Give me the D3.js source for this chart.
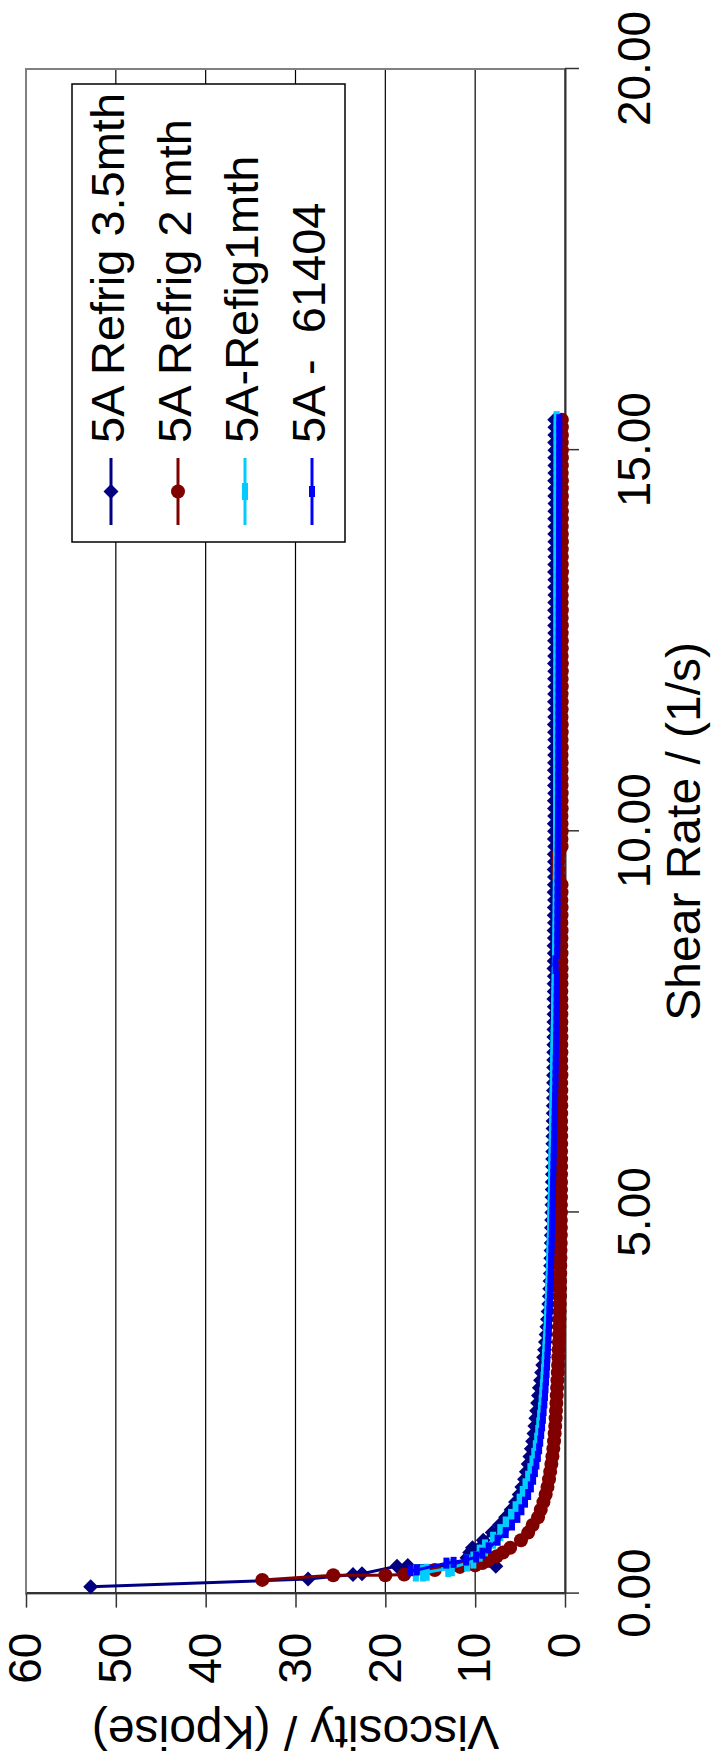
<!DOCTYPE html>
<html>
<head>
<meta charset="utf-8">
<script src="https://cdn.jsdelivr.net/npm/d3@7"></script>
<style>
  body { margin: 0; background: #fff; }
  text { font-family: "Liberation Sans", Arial, sans-serif; fill: #000; }
</style>
</head>
<body>
<svg id="chart" width="711" height="1763"></svg>
<script>
// series names, as in the legend
const seriesNames = ["5A Refrig 3.5mth", "5A Refrig 2 mth", "5A-Refig1mth", "5A -  61404"];

// axis ticks
const shearTicks = [0, 5, 10, 15, 20];
const viscTicks = [0, 10, 20, 30, 40, 50, 60];

// first few readings of each run (shear rate, viscosity) before the ramp settles
const start35 = [[0.09, 52.8], [0.19, 28.6], [0.25, 23.6], [0.26, 22.6], [0.36, 18.7], [0.37, 17.5], [0.36, 7.7], [0.47, 10.9], [0.54, 10.6]];
const start2 = [[0.18, 33.7], [0.24, 25.8], [0.24, 20.0], [0.25, 17.9], [0.31, 14.5], [0.35, 11.7], [0.37, 10.0], [0.40, 9.2], [0.44, 8.5], [0.49, 7.6], [0.54, 6.9]];
const start1 = [[0.27, 16.6], [0.27, 15.8], [0.28, 15.4], [0.33, 13.0], [0.34, 12.6], [0.40, 10.9], [0.44, 10.2], [0.53, 9.5]];
const start614 = [[0.30, 17.2], [0.31, 16.5], [0.40, 13.2], [0.41, 12.4], [0.44, 11.0], [0.48, 9.9], [0.53, 9.2]];

// shear rate ramp shared by the runs (1/s)
const shearRamp = [
  0.6, 0.7, 0.8, 0.9, 1.0, 1.1, 1.2, 1.3, 1.4, 1.5,
  1.6, 1.7, 1.8, 1.9, 2.0, 2.1, 2.2, 2.3, 2.4, 2.5,
  2.6, 2.7, 2.8, 2.9, 3.0, 3.1, 3.2, 3.3, 3.4, 3.5,
  3.6, 3.7, 3.8, 3.9, 4.0, 4.1, 4.2, 4.3, 4.4, 4.5,
  4.6, 4.7, 4.8, 4.9, 5.0, 5.1, 5.2, 5.3, 5.4, 5.5,
  5.6, 5.7, 5.8, 5.9, 6.0, 6.1, 6.2, 6.3, 6.4, 6.5,
  6.6, 6.7, 6.8, 6.9, 7.0, 7.1, 7.2, 7.3, 7.4, 7.5,
  7.6, 7.7, 7.8, 7.9, 8.0, 8.1, 8.2, 8.3, 8.4, 8.5,
  8.6, 8.7, 8.8, 8.9, 9.0, 9.1, 9.2, 9.3, 9.4, 9.5,
  9.6, 9.7, 9.8, 9.9, 10.0, 10.1, 10.2, 10.3, 10.4, 10.5,
  10.6, 10.7, 10.8, 10.9, 11.0, 11.1, 11.2, 11.3, 11.4, 11.5,
  11.6, 11.7, 11.8, 11.9, 12.0, 12.1, 12.2, 12.3, 12.4, 12.5,
  12.6, 12.7, 12.8, 12.9, 13.0, 13.1, 13.2, 13.3, 13.4, 13.5,
  13.6, 13.7, 13.8, 13.9, 14.0, 14.1, 14.2, 14.3, 14.4, 14.5,
  14.6, 14.7, 14.8, 14.9, 15.0, 15.1, 15.2, 15.3, 15.4
];

// viscosity (Kpoise) along the ramp
const visc35 = [
  10.3, 9.1, 8.1, 7.3, 6.6, 6.0, 5.5, 5.1, 4.8, 4.5,
  4.3, 4.1, 3.9, 3.75, 3.6, 3.45, 3.35, 3.25, 3.15, 3.05,
  2.95, 2.85, 2.72, 2.6, 2.48, 2.38, 2.28, 2.18, 2.1, 2.02,
  1.95, 1.88, 1.8, 1.74, 1.7, 1.66, 1.63, 1.6, 1.58, 1.55,
  1.53, 1.52, 1.5, 1.48, 1.46, 1.45, 1.44, 1.42, 1.41, 1.4,
  1.38, 1.37, 1.36, 1.35, 1.34, 1.33, 1.32, 1.31, 1.3, 1.29,
  1.28, 1.27, 1.27, 1.26, 1.25, 1.25, 1.24, 1.24, 1.23, 1.23,
  1.22, 1.19, 1.24, 1.2, 1.21, 1.18, 1.23, 1.2, 1.19, 1.22,
  1.18, 1.21, 1.17, 1.2, 1.19, 1.16, 1.21, 1.18, 1.17, 1.2,
  1.17, 1.19, 1.15, 1.18, 1.16, 1.19, 1.15, 1.17, 1.18, 1.15,
  1.17, 1.14, 1.18, 1.16, 1.15, 1.17, 1.14, 1.16, 1.18, 1.15,
  1.14, 1.17, 1.15, 1.13, 1.16, 1.14, 1.17, 1.15, 1.13, 1.16,
  1.14, 1.15, 1.13, 1.16, 1.14, 1.12, 1.15, 1.13, 1.16, 1.14,
  1.12, 1.15, 1.13, 1.14, 1.12, 1.15, 1.13, 1.11, 1.14, 1.12,
  1.15, 1.13, 1.12, 1.14, 1.12, 1.15, 1.13, 1.12, 1.14
];
const visc2 = [
  6.1, 4.9, 4.1, 3.6, 3.0, 2.7, 2.4, 2.15, 1.95, 1.78,
  1.65, 1.52, 1.4, 1.3, 1.22, 1.15, 1.09, 1.04, 1.0, 0.96,
  0.92, 0.88, 0.84, 0.8, 0.77, 0.74, 0.71, 0.68, 0.66, 0.64,
  0.62, 0.6, 0.58, 0.56, 0.55, 0.54, 0.53, 0.52, 0.51, 0.5,
  0.47, 0.47, 0.46, 0.46, 0.45, 0.45, 0.45, 0.44, 0.44, 0.44,
  0.43, 0.43, 0.44, 0.42, 0.43, 0.42, 0.43, 0.42, 0.41, 0.42,
  0.41, 0.42, 0.4, 0.41, 0.42, 0.4, 0.41, 0.4, 0.42, 0.4,
  0.41, 0.39, 0.4, 0.41, 0.39, 0.4, 0.38, 0.4, 0.39, 0.41,
  0.39, 0.38, 0.4, 0.39, 0.38, 0.4, 0.39, 0.38, 0.7, 0.75,
  0.75, 0.7, 0.38, 0.39, 0.37, 0.38, 0.39, 0.37, 0.38, 0.37,
  0.38, 0.37, 0.39, 0.37, 0.38, 0.36, 0.38, 0.37, 0.36, 0.38,
  0.37, 0.36, 0.38, 0.36, 0.37, 0.36, 0.35, 0.37, 0.36, 0.35,
  0.37, 0.35, 0.36, 0.35, 0.37, 0.36, 0.35, 0.36, 0.34, 0.36,
  0.35, 0.36, 0.34, 0.35, 0.36, 0.34, 0.35, 0.36, 0.34, 0.35,
  0.34, 0.36, 0.35, 0.34, 0.35, 0.36, 0.34, 0.35, 0.35
];
const visc1 = [
  8.9, 8.0, 7.2, 6.6, 6.0, 5.5, 5.05, 4.7, 4.4, 4.1,
  3.85, 3.62, 3.42, 3.25, 3.1, 2.98, 2.87, 2.77, 2.68, 2.6,
  2.53, 2.46, 2.4, 2.34, 2.28, 2.23, 2.18, 2.13, 2.08, 2.04,
  2.0, 1.96, 1.92, 1.89, 1.86, 1.83, 1.8, 1.77, 1.74, 1.72,
  1.7, 1.68, 1.66, 1.64, 1.62, 1.6, 1.58, 1.56, 1.55, 1.53,
  1.52, 1.5, 1.49, 1.47, 1.46, 1.44, 1.43, 1.41, 1.4, 1.38,
  1.37, 1.35, 1.34, 1.32, 1.31, 1.29, 1.28, 1.26, 1.25, 1.23,
  1.22, 1.2, 1.19, 1.17, 1.16, 1.14, 1.13, 1.11, 1.1, 1.08,
  1.07, 1.06, 1.05, 1.04, 1.03, 1.03, 1.02, 1.02, 1.01, 1.01,
  1.0, 1.0, 1.0, 0.99, 0.99, 0.99, 0.99, 0.98, 0.98, 0.98,
  0.98, 0.98, 0.97, 0.97, 0.97, 0.97, 0.97, 0.97, 0.96, 0.96,
  0.96, 0.96, 0.96, 0.96, 0.96, 0.96, 0.95, 0.95, 0.95, 0.95,
  0.95, 0.95, 0.95, 0.95, 0.95, 0.95, 0.95, 0.94, 0.94, 0.94,
  0.94, 0.94, 0.94, 0.94, 0.94, 0.94, 0.94, 0.94, 0.94, 0.93,
  0.93, 0.93, 0.93, 0.93, 0.93, 0.93, 0.93, 0.93, 0.93
];
const visc614 = [
  8.5, 7.5, 6.6, 5.9, 5.3, 4.85, 4.45, 4.1, 3.8, 3.55,
  3.35, 3.18, 3.02, 2.88, 2.76, 2.65, 2.55, 2.46, 2.38, 2.3,
  2.23, 2.17, 2.11, 2.05, 2.0, 1.96, 1.92, 1.88, 1.84, 1.8,
  1.77, 1.74, 1.71, 1.68, 1.65, 1.62, 1.59, 1.56, 1.54, 1.51,
  1.49, 1.47, 1.45, 1.43, 1.41, 1.39, 1.37, 1.35, 1.33, 1.31,
  1.29, 1.27, 1.25, 1.23, 1.21, 1.19, 1.17, 1.15, 1.13, 1.11,
  1.09, 1.07, 1.06, 1.04, 1.03, 1.01, 1.0, 0.99, 0.97, 0.96,
  0.95, 0.94, 0.93, 0.92, 0.91, 0.9, 1.05, 1.07, 0.87, 0.86,
  0.86, 0.85, 0.85, 0.84, 0.84, 0.83, 0.83, 0.82, 0.82, 0.81,
  0.81, 0.8, 0.8, 0.79, 0.79, 0.78, 0.78, 0.77, 0.77, 0.76,
  0.76, 0.76, 0.75, 0.75, 0.75, 0.74, 0.74, 0.74, 0.73, 0.73,
  0.73, 0.72, 0.72, 0.72, 0.71, 0.71, 0.71, 0.7, 0.7, 0.7,
  0.7, 0.69, 0.69, 0.69, 0.69, 0.68, 0.68, 0.68, 0.68, 0.67,
  0.67, 0.67, 0.67, 0.67, 0.66, 0.66, 0.66, 0.66, 0.66, 0.65,
  0.65, 0.65, 0.65, 0.65, 0.65, 0.64, 0.64, 0.64, 0.64
];

// chart is laid out unrotated (W wide, H tall) and then turned 90° counter-clockwise
const W = 1763, H = 711;
const margin = { left: 169.4, right: 69, top: 26, bottom: 146 };

const svg = d3.select("#chart");
const g = svg.append("g").attr("transform", `translate(0,${W}) rotate(-90)`);

const x = d3.scaleLinear().domain([0, 20]).range([margin.left, W - margin.right]);
const y = d3.scaleLinear().domain([0, 60]).range([H - margin.bottom, margin.top]);

// gridlines
g.append("g").selectAll("line")
    .data(viscTicks.filter(d => d > 0 && d < 60))
    .join("line")
    .attr("x1", x(0)).attr("x2", x(20))
    .attr("y1", d => y(d)).attr("y2", d => y(d))
    .attr("stroke", "#000")
    .attr("stroke-width", 1.2);

// plot area border
g.append("rect")
    .attr("x", x(0)).attr("y", y(60))
    .attr("width", x(20) - x(0)).attr("height", y(0) - y(60))
    .attr("fill", "none")
    .attr("stroke", "#808080")
    .attr("stroke-width", 2);

// axes
const xAxis = g.append("g")
    .attr("transform", `translate(0,${y(0)})`)
    .call(d3.axisBottom(x).tickValues(shearTicks).tickFormat(d3.format(".2f"))
        .tickSize(14).tickSizeOuter(0).tickPadding(38));

const yAxis = g.append("g")
    .attr("transform", `translate(${x(0)},0)`)
    .call(d3.axisLeft(y).tickValues(viscTicks).tickFormat(d3.format("d"))
        .tickSize(14).tickSizeOuter(0).tickPadding(25));

[xAxis, yAxis].forEach(a => {
    a.select(".domain").attr("stroke", "#333").attr("stroke-width", 2);
    a.selectAll(".tick line").attr("stroke", "#333").attr("stroke-width", 1.5);
    a.selectAll(".tick text").attr("font-size", 46).attr("fill", "#000")
        .attr("font-family", "'Liberation Sans', Arial, sans-serif");
});

// axis titles
g.append("text")
    .attr("x", (x(0) + x(20)) / 2)
    .attr("y", 700)
    .attr("text-anchor", "middle")
    .attr("font-size", 48)
    .text("Shear Rate / (1/s)");

g.append("text")
    .attr("transform", `translate(47,${(y(0) + y(60)) / 2}) rotate(-90)`)
    .attr("text-anchor", "middle")
    .attr("font-size", 48)
    .text("Viscosity / (Kpoise)");

// series
const series = [
    { name: seriesNames[0], start: start35, visc: visc35, color: "#000080", marker: "diamond" },
    { name: seriesNames[1], start: start2, visc: visc2, color: "#800000", marker: "circle" },
    { name: seriesNames[2], start: start1, visc: visc1, color: "#00CCFF", marker: "dashLong" },
    { name: seriesNames[3], start: start614, visc: visc614, color: "#0000FF", marker: "dashShort" }
];

function drawMarker(sel, type, color) {
    if (type === "diamond") {
        sel.append("path").attr("d", "M0,-7.5L7.5,0L0,7.5L-7.5,0Z").attr("fill", color);
    } else if (type === "circle") {
        sel.append("circle").attr("r", 7).attr("fill", color);
    } else if (type === "dashLong") {
        sel.append("rect").attr("x", -8.5).attr("y", -3).attr("width", 17).attr("height", 6).attr("fill", color);
    } else {
        sel.append("rect").attr("x", -5.5).attr("y", -3).attr("width", 11).attr("height", 6).attr("fill", color);
    }
}

const line = d3.line().x(d => x(d.s)).y(d => y(d.v));

series.forEach(sr => {
    const pts = sr.start.map(d => ({ s: d[0], v: d[1] }))
        .concat(shearRamp.map((s, i) => ({ s: s, v: sr.visc[i] })));

    const sg = g.append("g");
    sg.append("path")
        .datum(pts)
        .attr("d", line)
        .attr("fill", "none")
        .attr("stroke", sr.color)
        .attr("stroke-width", 3)
        .attr("stroke-linejoin", "round");

    sg.selectAll("g.pt")
        .data(pts)
        .join("g")
        .attr("class", "pt")
        .attr("transform", d => `translate(${x(d.s)},${y(d.v)})`)
        .each(function () { drawMarker(d3.select(this), sr.marker, sr.color); });
});

// legend
const legend = g.append("g");
legend.append("rect")
    .attr("x", 1221).attr("y", 72)
    .attr("width", 458).attr("height", 273)
    .attr("fill", "#fff")
    .attr("stroke", "#000")
    .attr("stroke-width", 1.5);

const rowY = [111, 178, 245, 312];
series.forEach((sr, i) => {
    const row = legend.append("g").attr("transform", `translate(0,${rowY[i]})`);
    row.append("line")
        .attr("x1", 1238).attr("x2", 1305)
        .attr("stroke", sr.color)
        .attr("stroke-width", 3);
    drawMarker(row.append("g").attr("transform", "translate(1271.5,0)"), sr.marker, sr.color);
    row.append("text")
        .attr("x", 1320)
        .attr("y", 12.5)
        .attr("font-size", 47)
        .style("white-space", "pre")
        .text(sr.name);
});
</script>
</body>
</html>
